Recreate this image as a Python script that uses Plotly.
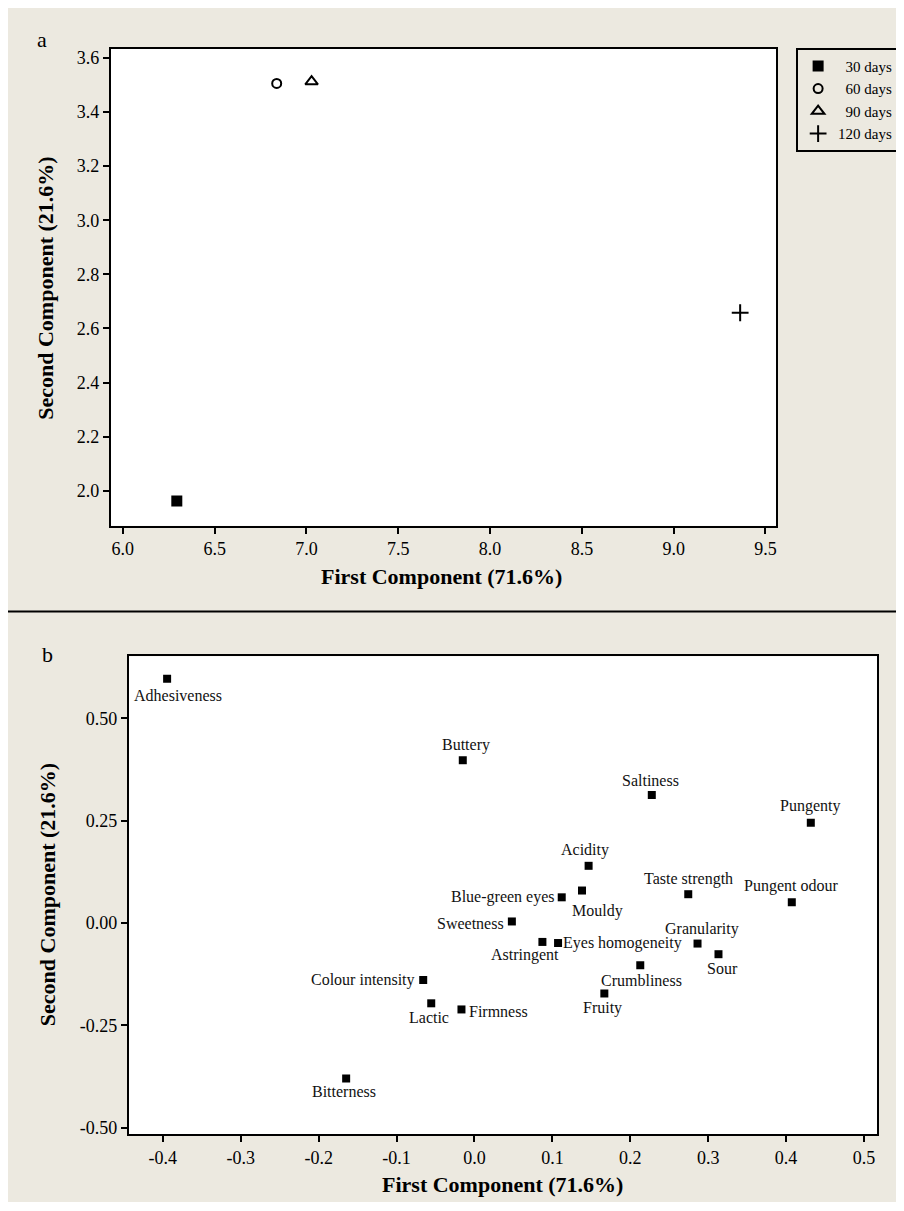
import plotly.graph_objects as go

# ---------------- data: panel a (scores) ----------------
age_labels = ["30 days", "60 days", "90 days", "120 days"]
pc1_scores = [6.294, 6.838, 7.028, 9.362]
pc2_scores = [1.963, 3.505, 3.512, 2.658]

# ---------------- data: panel b (loadings) ----------------
attr_labels = ["Adhesiveness", "Buttery", "Saltiness", "Pungenty", "Acidity",
               "Taste strength", "Pungent odour", "Mouldy", "Blue-green eyes",
               "Sweetness", "Astringent", "Eyes homogeneity", "Granularity",
               "Sour", "Crumbliness", "Colour intensity", "Fruity", "Lactic",
               "Firmness", "Bitterness"]
pc1_load = [-0.3945, -0.015, 0.2276, 0.4317, 0.1465,
            0.2744, 0.4073, 0.138, 0.112,
            0.048, 0.0872, 0.1073, 0.2863,
            0.3132, 0.2128, -0.0658, 0.1667, -0.0555,
            -0.0167, -0.1647]
pc2_load = [0.597, 0.398, 0.313, 0.245, 0.140,
            0.0706, 0.051, 0.0796, 0.063,
            0.004, -0.046, -0.0487, -0.050,
            -0.076, -0.103, -0.139, -0.172, -0.196,
            -0.211, -0.380]

xticks_a = [6.0, 6.5, 7.0, 7.5, 8.0, 8.5, 9.0, 9.5]
yticks_a = [2.0, 2.2, 2.4, 2.6, 2.8, 3.0, 3.2, 3.4, 3.6]
xticks_b = [-0.4, -0.3, -0.2, -0.1, 0.0, 0.1, 0.2, 0.3, 0.4, 0.5]
xticktext_b = ["-0.4", "-0.3", "-0.2", "-0.1", "0.0", "0.1", "0.2", "0.3", "0.4", "0.5"]
yticks_b = [-0.50, -0.25, 0.00, 0.25, 0.50]
yticktext_b = ["-0.50", "-0.25", "0.00", "0.25", "0.50"]

axis_x_title = "First Component (71.6%)"
axis_y_title = "Second Component (21.6%)"

# ---------------- styles ----------------
OFF = 8              # page margin of the browser
W, H = 904 - OFF, 1202 - OFF
BG = "#ECE9E0"
SERIF = "Liberation Serif, Times New Roman, serif"

marker_styles = [
    dict(symbol="square", size=11, color="black", line=dict(width=0)),
    dict(symbol="circle-open", size=9, color="black", line=dict(width=2, color="black")),
    dict(symbol="triangle-up-open", size=11, color="black", line=dict(width=2, color="black")),
    dict(symbol="cross-thin-open", size=12, color="black", line=dict(width=2, color="black")),
]
legend_names = ["\u00a0\u00a030 days", "\u00a0\u00a060 days", "\u00a0\u00a090 days", "120 days"]

# label placement (xanchor, xshift px, yshift px) for loadings
label_pos = {
    "Adhesiveness": ("center", 11, -17),
    "Buttery": ("center", 3, 15),
    "Saltiness": ("center", -1, 15),
    "Pungenty": ("center", -1, 17),
    "Acidity": ("center", -4, 16),
    "Taste strength": ("center", 0, 15),
    "Pungent odour": ("center", -1, 16),
    "Mouldy": ("center", 16, -20),
    "Blue-green eyes": ("right", -5, 0),
    "Sweetness": ("right", -6, -2),
    "Astringent": ("center", -17, -13),
    "Eyes homogeneity": ("left", 3, 0),
    "Granularity": ("center", 4, 15),
    "Sour": ("center", 4, -14),
    "Crumbliness": ("center", 1, -15),
    "Colour intensity": ("right", -6, 0),
    "Fruity": ("center", -2, -15),
    "Lactic": ("center", -2, -14),
    "Firmness": ("left", 6, -2),
    "Bitterness": ("center", -2, -13),
}

def px_x(p):
    return (p - OFF) / W

def px_y(p):
    return 1 - (p - OFF) / H

fig = go.Figure()

for name, xv, yv, ms in zip(legend_names, pc1_scores, pc2_scores, marker_styles):
    fig.add_trace(go.Scatter(x=[xv], y=[yv], mode="markers", name=name,
                             marker=ms, xaxis="x", yaxis="y", showlegend=True))

fig.add_trace(go.Scatter(x=pc1_load, y=pc2_load, mode="markers",
                         marker=dict(symbol="square", size=8, color="black"),
                         xaxis="x2", yaxis="y2", showlegend=False))

annotations = []
for lab, xv, yv in zip(attr_labels, pc1_load, pc2_load):
    xa, xs, ys = label_pos[lab]
    annotations.append(dict(x=xv, y=yv, xref="x2", yref="y2", text=lab,
                            showarrow=False, xanchor=xa, yanchor="middle",
                            xshift=xs, yshift=ys,
                            font=dict(family=SERIF, size=16, color="#111111")))

title_font = dict(family=SERIF, size=22, color="black")
annotations += [
    dict(x=px_x(442), y=px_y(578), xref="paper", yref="paper", text="<b>%s</b>" % axis_x_title,
         showarrow=False, xanchor="center", yanchor="middle", font=title_font),
    dict(x=px_x(46), y=px_y(288), xref="paper", yref="paper", text="<b>%s</b>" % axis_y_title,
         showarrow=False, xanchor="center", yanchor="middle", textangle=-90, font=title_font),
    dict(x=px_x(503), y=px_y(1188), xref="paper", yref="paper", text="<b>%s</b>" % axis_x_title,
         showarrow=False, xanchor="center", yanchor="middle", font=title_font),
    dict(x=px_x(47), y=px_y(897), xref="paper", yref="paper", text="<b>%s</b>" % axis_y_title,
         showarrow=False, xanchor="center", yanchor="middle", textangle=-90, font=title_font),
    dict(x=px_x(42), y=px_y(39), xref="paper", yref="paper", text="a",
         showarrow=False, xanchor="center", yanchor="middle",
         font=dict(family=SERIF, size=22, color="black")),
    dict(x=px_x(48), y=px_y(656), xref="paper", yref="paper", text="b",
         showarrow=False, xanchor="center", yanchor="middle",
         font=dict(family=SERIF, size=22, color="black")),
]

shapes = [
    dict(type="line", xref="paper", yref="paper", x0=0, x1=1, y0=px_y(613), y1=px_y(613),
         line=dict(color="black", width=2)),
]

tick_font = dict(family=SERIF, size=18, color="black")
axis_common = dict(showline=True, mirror=True, linecolor="black", linewidth=2,
                   ticks="outside", ticklen=6, tickwidth=1.5, tickcolor="black",
                   showgrid=False, zeroline=False, tickfont=tick_font, fixedrange=True)

fig.update_layout(
    width=W, height=H,
    margin=dict(l=0, r=0, t=0, b=0),
    paper_bgcolor=BG, plot_bgcolor="white",
    font=dict(family=SERIF, color="black"),
    xaxis=dict(domain=[px_x(111), px_x(777)], range=[5.935, 9.558],
               tickvals=xticks_a, tickformat=".1f", anchor="y", **axis_common),
    yaxis=dict(domain=[px_y(527), px_y(48)], range=[1.871, 3.633],
               tickvals=yticks_a, tickformat=".1f", anchor="x", **axis_common),
    xaxis2=dict(domain=[px_x(129), px_x(878)], range=[-0.4436, 0.5167],
                tickvals=xticks_b, ticktext=xticktext_b, anchor="y2", **axis_common),
    yaxis2=dict(domain=[px_y(1138), px_y(658)], range=[-0.516, 0.652],
                tickvals=yticks_b, ticktext=yticktext_b, anchor="x2", **axis_common),
    legend=dict(x=px_x(797), y=px_y(47), xanchor="left", yanchor="top",
                bgcolor=BG, bordercolor="black", borderwidth=2,
                font=dict(family=SERIF, size=15, color="black"),
                itemsizing="trace", itemwidth=30, tracegroupgap=0),
    annotations=annotations,
    shapes=shapes,
    showlegend=True,
)

fig.write_html("out.html")
